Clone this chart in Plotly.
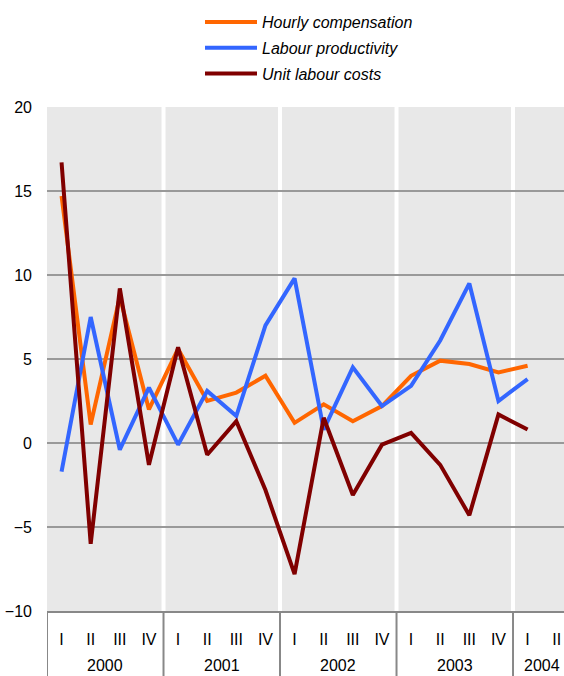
import plotly.graph_objects as go

# Quarterly growth rates, % (2000 Q1 – 2004 Q1)
quarters = ["I", "II", "III", "IV"] * 4 + ["I", "II"]
years = ["2000", "2001", "2002", "2003", "2004"]

hourly_compensation = [14.7, 1.1, 8.7, 2.0,
                       5.6, 2.5, 3.0, 4.0,
                       1.2, 2.3, 1.3, 2.2,
                       4.0, 4.9, 4.7, 4.2,
                       4.6]
labour_productivity = [-1.7, 7.5, -0.4, 3.3,
                       -0.1, 3.1, 1.6, 7.0,
                       9.8, 0.8, 4.5, 2.2,
                       3.4, 6.1, 9.5, 2.5,
                       3.8]
unit_labour_costs = [16.7, -6.0, 9.2, -1.3,
                     5.7, -0.7, 1.3, -2.8,
                     -7.8, 1.5, -3.1, -0.1,
                     0.6, -1.3, -4.3, 1.7,
                     0.8]

series = [
    ("Hourly compensation", hourly_compensation, "#FF6600"),
    ("Labour productivity", labour_productivity, "#3366FF"),
    ("Unit labour costs", unit_labour_costs, "#800000"),
]

FONT = "Liberation Sans, Arial, sans-serif"
FS = 16
PLOT_H = 676 - 107 - 65

fig = go.Figure()
for i, (name, vals, color) in enumerate(series):
    fig.add_trace(go.Scatter(
        x=list(range(len(vals))), y=vals, name=name, mode="lines",
        line=dict(color=color, width=4),
        legendgroup=f"g{i}",
    ))

shapes = []
# white separators between years inside the plot
for b in [3.5, 7.5, 11.5, 15.5]:
    shapes.append(dict(type="line", xref="x", yref="paper", x0=b, x1=b, y0=0, y1=1,
                       line=dict(color="white", width=4), layer="between"))
# year brackets below the category axis
for b in [-0.5, 3.5, 7.5, 11.5, 15.5]:
    shapes.append(dict(type="line", xref="x", yref="paper", x0=b, x1=b, y0=0, y1=-0.14,
                       line=dict(color="#888888", width=2), layer="above"))

annotations = []
year_centres = [1.5, 5.5, 9.5, 13.5, 16.5]
for yr, xc in zip(years, year_centres):
    annotations.append(dict(x=xc, y=-(665 - 611) / PLOT_H, xref="x", yref="paper",
                            text=yr, showarrow=False, yanchor="middle",
                            font=dict(family=FONT, size=FS, color="black")))

fig.update_layout(
    width=564, height=676,
    margin=dict(l=47, r=0, t=107, b=65),
    paper_bgcolor="white",
    plot_bgcolor="#E8E8E8",
    font=dict(family=FONT, size=FS, color="black"),
    showlegend=True,
    legend=dict(
        x=(200 - 47) / 517, y=1 + (107 - 5) / PLOT_H,
        xanchor="left", yanchor="top",
        bgcolor="rgba(0,0,0,0)",
        font=dict(family=FONT, size=FS, color="black", style="italic"),
        tracegroupgap=2, itemwidth=52,
    ),
    xaxis=dict(
        range=[-0.5, 17.25],
        tickvals=list(range(len(quarters))), ticktext=quarters,
        showgrid=False, zeroline=False,
        showline=True, linecolor="#888888", linewidth=2,
        ticks="", ticklabelstandoff=13,
        tickfont=dict(family=FONT, size=FS, color="black"),
    ),
    yaxis=dict(
        range=[-10, 20], tickvals=[-10, -5, 0, 5, 10, 15, 20],
        showgrid=True, gridcolor="#999999", gridwidth=2,
        zeroline=True, zerolinecolor="#999999", zerolinewidth=2,
        showline=False, ticks="", ticklabelstandoff=14,
        tickfont=dict(family=FONT, size=FS, color="black"),
    ),
    shapes=shapes, annotations=annotations,
)

fig.write_html("out.html")
